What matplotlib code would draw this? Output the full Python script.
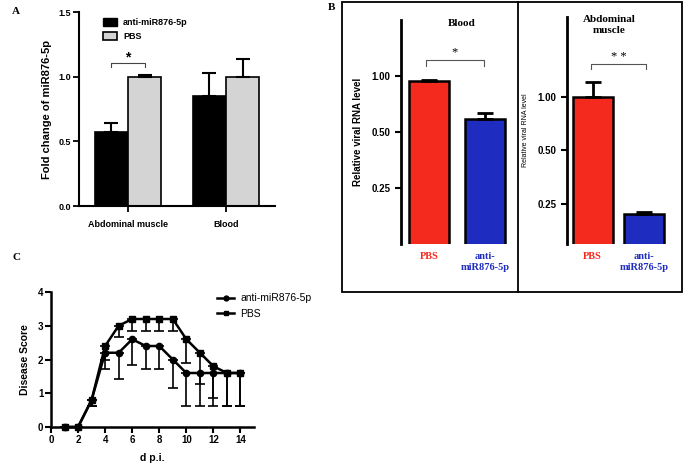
import numpy as np
import matplotlib.pyplot as plt
from matplotlib.patches import Patch, Rectangle
from matplotlib.lines import Line2D

# Panel A: fold change of miR876-5p
a_groups = ['Abdominal muscle', 'Blood']
a_anti = [0.57, 0.85]
a_anti_err = [0.07, 0.18]
a_pbs = [1.00, 1.00]
a_pbs_err = [0.01, 0.135]

# Panel B: relative viral RNA level
b_labels = ['PBS', 'anti-\nmiR876-5p']
b_blood = [0.94, 0.59]
b_blood_err = [0.015, 0.045]
b_muscle = [1.00, 0.22]
b_muscle_err = [0.22, 0.005]

# Panel C: disease score
c_days = [1, 2, 3, 4, 5, 6, 7, 8, 9, 10, 11, 12, 13, 14]
c_anti = [0, 0, 0.8, 2.2, 2.2, 2.6, 2.4, 2.4, 2.0, 1.6, 1.6, 1.6, 1.6, 1.6]
c_anti_low = [0, 0, 0.62, 1.71, 1.41, 1.84, 1.71, 1.71, 1.16, 0.62, 0.62, 0.62, 0.62, 0.62]
c_pbs = [0, 0, 0.8, 2.4, 3.0, 3.2, 3.2, 3.2, 3.2, 2.6, 2.2, 1.8, 1.6, 1.6]
c_pbs_low = [0, 0, 0.62, 2.0, 2.68, 2.83, 2.83, 2.83, 2.83, 1.9, 1.28, 0.87, 0.62, 0.62]

W, H = 685, 465
fig = plt.figure(figsize=(W/100, H/100), dpi=100)

sans = ['Liberation Sans', 'DejaVu Sans']
serif = ['Liberation Serif', 'DejaVu Serif']
red = '#f52a1e'
blue = '#1f2cc0'

def axes_px(x0, y0, x1, y1):
    return fig.add_axes([x0/W, 1 - y1/H, (x1 - x0)/W, (y1 - y0)/H])

def style(ax, bottom=True):
    for s in ['top', 'right']:
        ax.spines[s].set_visible(False)
    ax.spines['left'].set_linewidth(1.5)
    ax.spines['bottom'].set_linewidth(1.5)
    ax.spines['bottom'].set_visible(bottom)
    ax.tick_params(width=1.3, length=4)
    ax.set_facecolor('none')

#
# Panel A
#
ax = axes_px(79, 12, 275, 206)
style(ax)
x = np.arange(len(a_groups))
w = 0.34
ax.bar(x - w/2, a_anti, w, color='black', edgecolor='black', linewidth=1.2,
       yerr=[np.zeros(2), a_anti_err], error_kw=dict(capsize=5, elinewidth=1.5, capthick=1.5))
ax.bar(x + w/2, a_pbs, w, color='#d4d4d4', edgecolor='black', linewidth=1.2,
       yerr=[np.zeros(2), a_pbs_err], error_kw=dict(capsize=5, elinewidth=1.5, capthick=1.5))
ax.set_xlim(-0.5, 1.5)
ax.set_ylim(0, 1.5)
ax.set_yticks([0, 0.5, 1.0, 1.5])
ax.set_yticklabels(['0.0', '0.5', '1.0', '1.5'], fontsize=6.5, fontweight='bold', family=sans)
ax.set_xticks(x)
ax.set_xticklabels(a_groups, fontsize=6.5, fontweight='bold', family=sans)
ax.tick_params(axis='x', pad=6)
ax.tick_params(axis='y', pad=2)
ax.set_ylabel('Fold change of miR876-5p', fontsize=8, fontweight='bold', family=sans, labelpad=4)
ax.plot([-0.17, -0.17, 0.17, 0.17], [1.075, 1.106, 1.106, 1.075], color='#444444', lw=0.8)
ax.text(0, 1.095, '*', ha='center', va='bottom', fontsize=10, fontweight='bold', family=sans)
ax.legend(handles=[Patch(facecolor='black', edgecolor='black'),
                   Patch(facecolor='#d4d4d4', edgecolor='black', linewidth=1.2)],
          labels=['anti-miR876-5p', 'PBS'], loc='upper left',
          bbox_to_anchor=(95/W, 1 - 10/H), bbox_transform=fig.transFigure,
          frameon=False, prop=dict(family=sans, weight='bold', size=6.5),
          handlelength=1.5, handleheight=0.9, handletextpad=0.7, labelspacing=0.55)

#
# Panel B frame
#
fig.add_artist(Rectangle((342/W, 1 - 292/H), 340/W, 290/H, transform=fig.transFigure,
                         fill=False, edgecolor='black', linewidth=1.3))
fig.add_artist(Line2D([518/W, 518/W], [1 - 292/H, 1 - 2/H], transform=fig.transFigure,
                      color='black', linewidth=1.3))

def b_panel(ax, vals, errs, ylim, ylabel_size, ylabel_weight, w):
    style(ax, bottom=False)
    xb = np.arange(2)
    ax.bar(xb, vals, w, color=[red, blue], edgecolor='black', linewidth=1.8,
           yerr=[np.zeros(2), errs], error_kw=dict(capsize=6, elinewidth=2, capthick=2))
    ax.set_yscale('log', base=2)
    ax.set_ylim(*ylim)
    ax.set_xlim(-0.5, 1.5)
    ax.minorticks_off()
    ax.set_yticks([0.25, 0.5, 1.0])
    ax.set_yticklabels(['0.25', '0.50', '1.00'], fontsize=7, fontweight='bold', family=sans)
    ax.set_xticks(xb)
    ax.set_xticklabels(b_labels, fontsize=7.5, fontweight='bold', family=serif, va='top')
    for lab, c in zip(ax.get_xticklabels(), [red, blue]):
        lab.set_color(c)
    ax.tick_params(axis='x', length=0, pad=6)
    ax.tick_params(axis='y', width=1.5, length=4)
    ax.spines['left'].set_linewidth(2)
    ax.set_ylabel('Relative viral RNA level', fontsize=ylabel_size,
                  fontweight=ylabel_weight, family=sans, labelpad=6)

axb1 = axes_px(401, 20, 513, 244)
b_panel(axb1, b_blood, b_blood_err, (0.125, 2.0), 7, 'bold', 0.71)
axb1.plot([-0.05, -0.05, 0.98, 0.98], [1.13, 1.22, 1.22, 1.13], color='#555555', lw=0.8)
axb1.text(0.46, 1.24, '*', ha='center', va='bottom', fontsize=9, family=serif)
fig.text(462/W, 1 - 23/H, 'Blood', ha='center', va='center', fontsize=8,
         fontweight='bold', family=serif)

axb2 = axes_px(567, 17, 670, 244)
b_panel(axb2, b_muscle, b_muscle_err, (0.148, 2.84), 5, 'normal', 0.77)
axb2.plot([-0.03, -0.03, 1.04, 1.04], [1.45, 1.54, 1.54, 1.45], color='#555555', lw=0.8)
axb2.text(0.5, 1.56, '* *', ha='center', va='bottom', fontsize=9, family=serif)
fig.text(609/W, 1 - 25/H, 'Abdominal\nmuscle', ha='center', va='center', fontsize=8,
         fontweight='bold', family=serif, linespacing=1.3)

#
# Panel C
#
axc = axes_px(51, 292, 254, 427)
style(axc)
axc.spines['left'].set_linewidth(1.8)
axc.spines['bottom'].set_linewidth(1.8)
days = np.array(c_days)
anti = np.array(c_anti)
pbs = np.array(c_pbs)
axc.errorbar(days, anti, yerr=[anti - np.array(c_anti_low), np.zeros(len(days))],
             color='black', marker='o', markersize=4.5, lw=1.8, elinewidth=1.2,
             capsize=3.5, capthick=1.2, label='anti-miR876-5p', clip_on=False)
axc.errorbar(days, pbs, yerr=[pbs - np.array(c_pbs_low), np.zeros(len(days))],
             color='black', marker='s', markersize=4.5, lw=1.8, elinewidth=1.2,
             capsize=3.5, capthick=1.2, label='PBS', clip_on=False)
axc.set_xlim(0, 15)
axc.set_ylim(0, 4)
axc.set_xticks(range(0, 15, 2))
axc.set_yticks(range(0, 5))
for lab in axc.get_xticklabels() + axc.get_yticklabels():
    lab.set_fontsize(7)
    lab.set_fontweight('bold')
    lab.set_family(sans)
axc.tick_params(width=1.5, length=4, pad=1.5)
axc.set_xlabel('d p.i.', fontsize=7.5, fontweight='bold', family=sans, labelpad=6)
axc.set_ylabel('Disease Score', fontsize=7.5, fontweight='bold', family=sans, labelpad=6)
handles = [Line2D([], [], color='black', marker='o', markersize=3.5, lw=1.8),
           Line2D([], [], color='black', marker='s', markersize=3.5, lw=1.8)]
axc.legend(handles=handles, labels=['anti-miR876-5p', 'PBS'], loc='upper left',
           bbox_to_anchor=(208/W, 1 - 284/H), bbox_transform=fig.transFigure,
           frameon=False, prop=dict(family=sans, size=7.5),
           handlelength=1.6, handletextpad=0.6, labelspacing=0.5)

# Panel letters
fig.text(12/W, 1 - 12/H, 'A', fontsize=8, fontweight='bold', family=serif, va='center')
fig.text(328/W, 1 - 8/H, 'B', fontsize=8, fontweight='bold', family=serif, va='center')
fig.text(12/W, 1 - 258/H, 'C', fontsize=8, fontweight='bold', family=serif, va='center')

fig.savefig('out.png', dpi=100)
